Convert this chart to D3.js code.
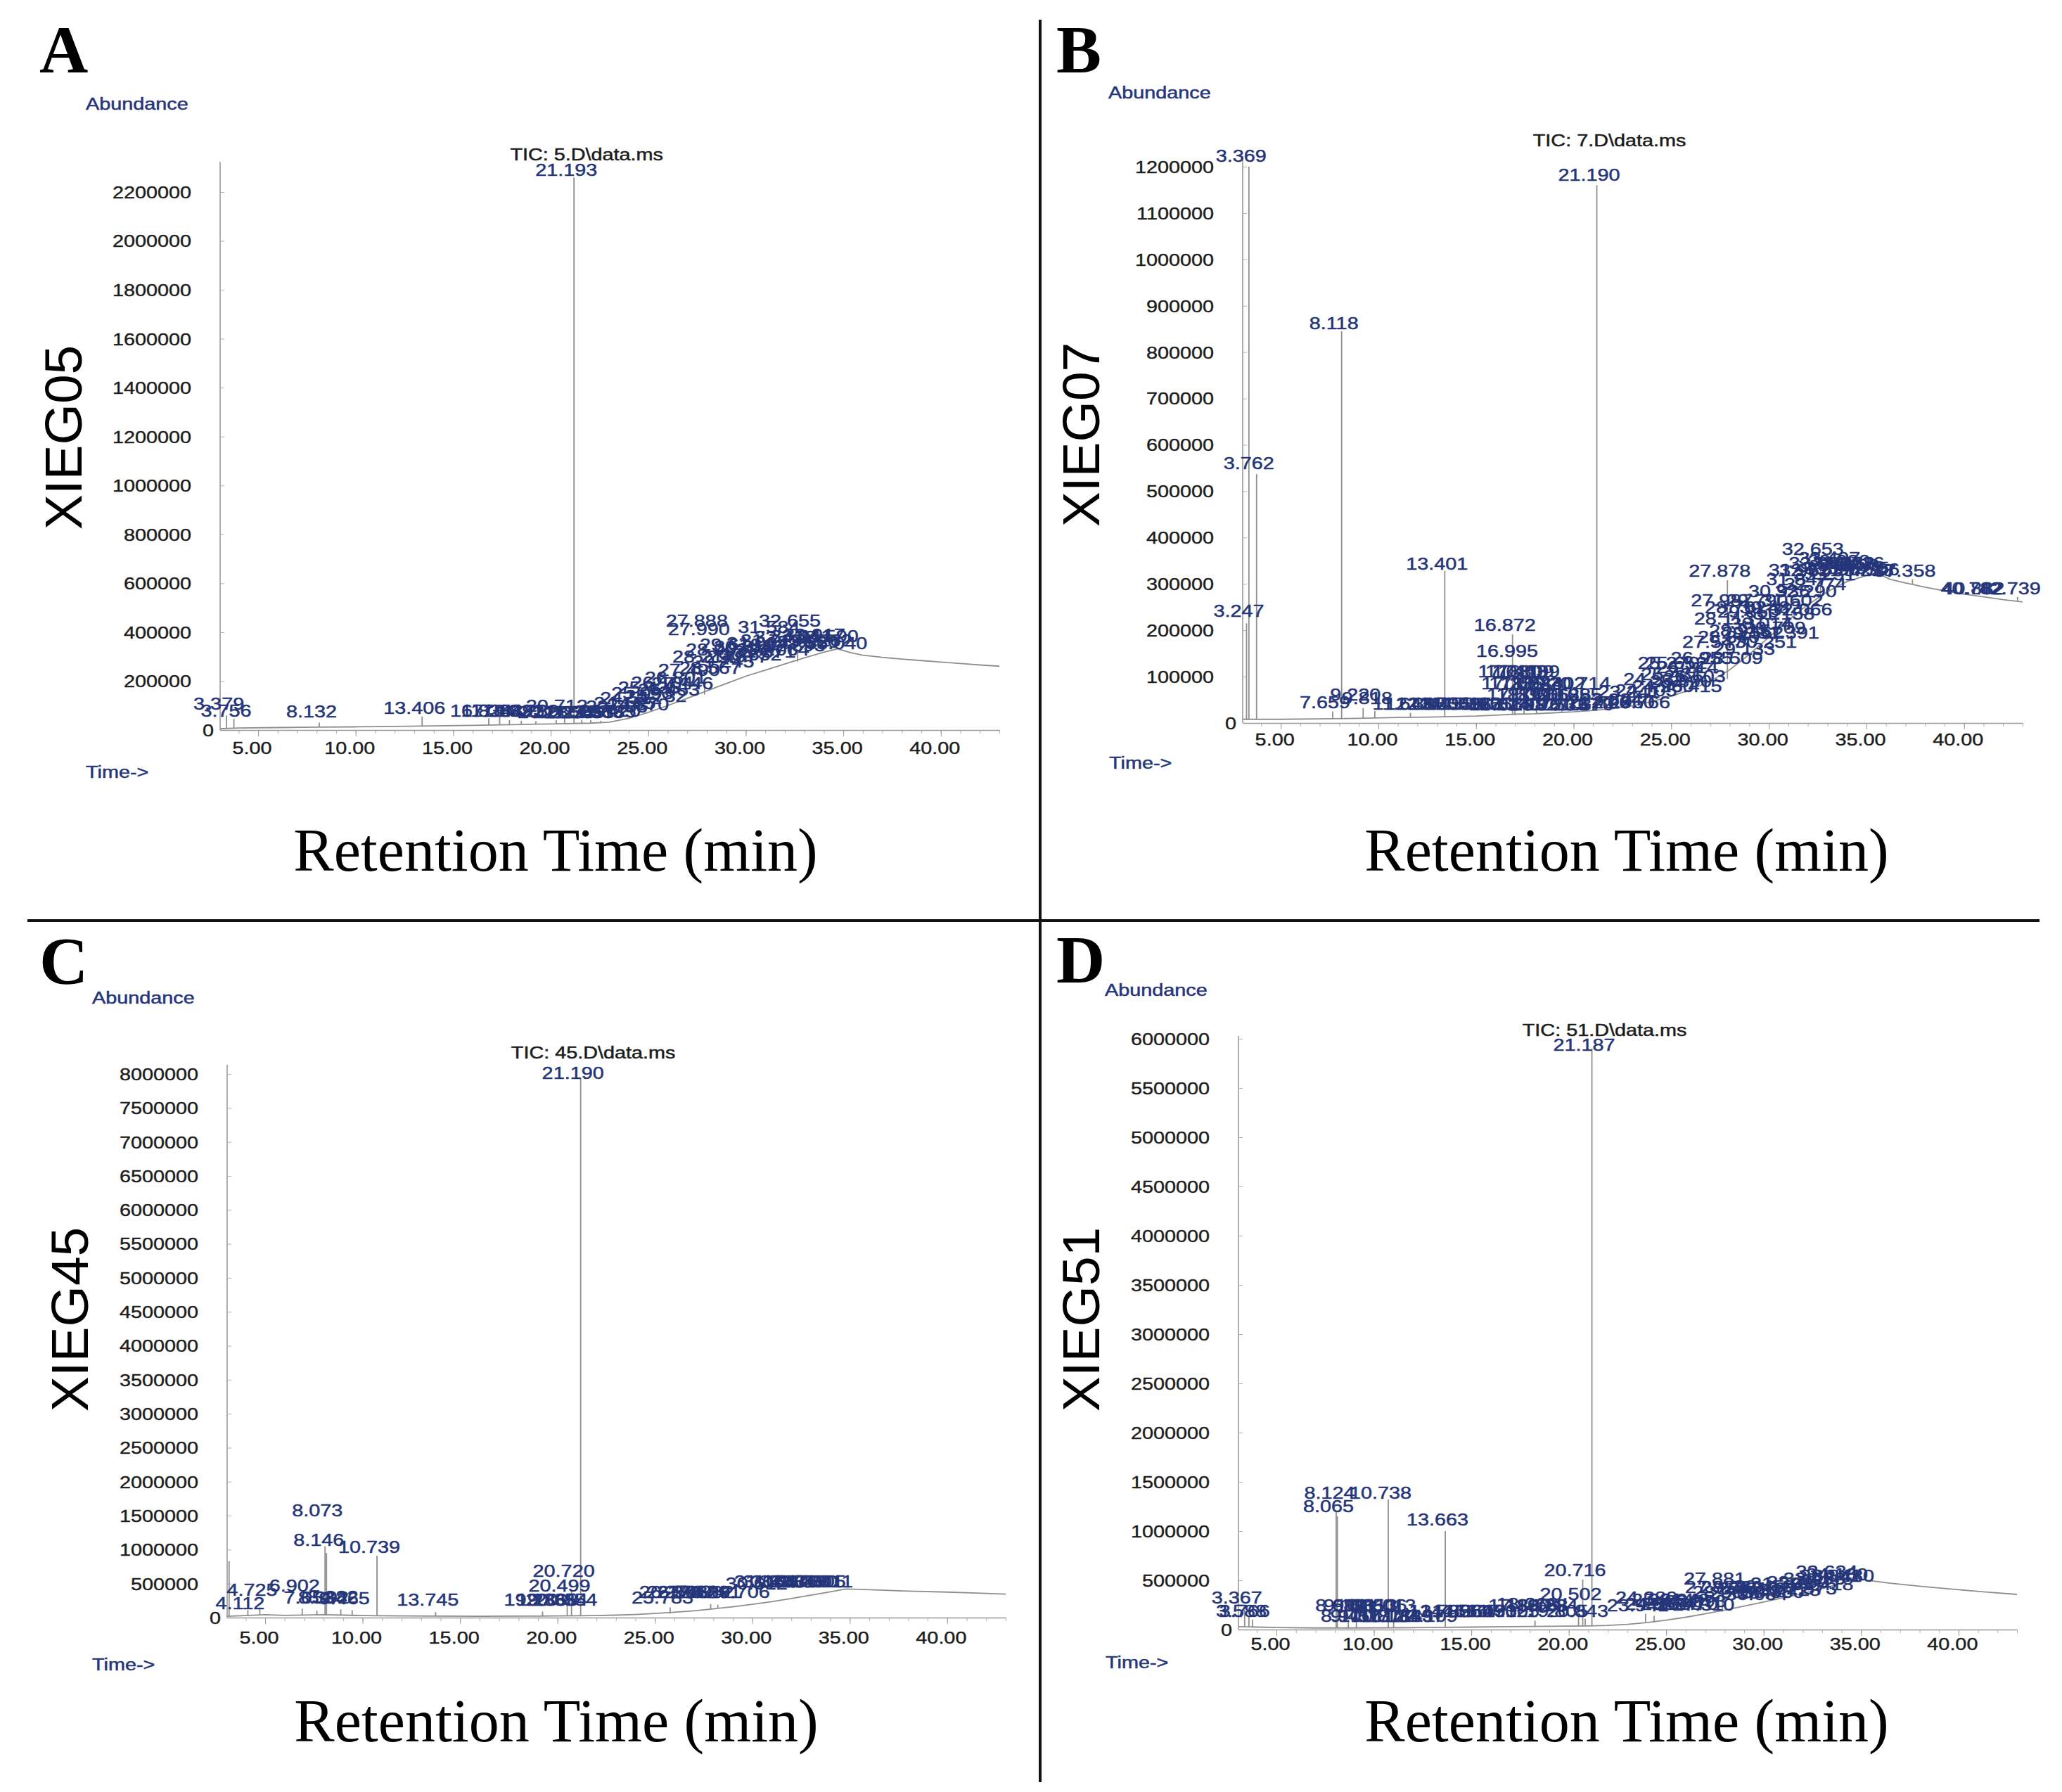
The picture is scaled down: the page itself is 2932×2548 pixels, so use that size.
<!DOCTYPE html>
<html>
<head>
<meta charset="utf-8">
<script src="https://cdn.jsdelivr.net/npm/d3@7"></script>
<style>
body { margin: 0; background: #fff; }
svg { display: block; }
</style>
</head>
<body>
<svg id="chart"></svg>
<script>
//------------------------------------------------------------------ data
var timeTicks = [5, 10, 15, 20, 25, 30, 35, 40]
var timeDomain = [3.05, 43.0]

var abundTicksA = [0, 200000, 400000, 600000, 800000, 1000000, 1200000, 1400000, 1600000, 1800000, 2000000, 2200000]
var abundTicksB = [0, 100000, 200000, 300000, 400000, 500000, 600000, 700000, 800000, 900000, 1000000, 1100000, 1200000]
var abundTicksC = [0, 500000, 1000000, 1500000, 2000000, 2500000, 3000000, 3500000, 4000000, 4500000, 5000000, 5500000, 6000000, 6500000, 7000000, 7500000, 8000000]
var abundTicksD = [0, 500000, 1000000, 1500000, 2000000, 2500000, 3000000, 3500000, 4000000, 4500000, 5000000, 5500000, 6000000]

// baseline of the TIC trace: [time, abundance]
var traceA = [[3.05, 5000], [4, 8000], [6, 10000], [8, 12000], [10, 13000], [12, 15000], [14, 17000], [16, 19000], [18, 22000], [20, 25000], [22, 28000], [23, 32000], [24, 48000], [25, 72000], [26, 100000], [27, 130000], [28, 160000], [29, 190000], [30, 220000], [31, 245000], [32, 270000], [33, 295000], [34, 318000], [34.7, 332000], [35.4, 316000], [36, 306000], [37, 297000], [38, 290000], [39, 284000], [40, 278000], [41, 272000], [42, 266000], [43, 261000]]
var traceB = [[3.06, 8000], [5, 8000], [7, 9000], [9, 10000], [11, 12000], [13, 13000], [15, 15000], [16, 17000], [17, 19000], [18, 20000], [19, 22000], [20, 24000], [21, 27000], [22, 31000], [23, 37000], [24, 46000], [25, 58000], [26, 72000], [27, 90000], [28, 115000], [29, 148000], [30, 185000], [31, 222000], [32, 255000], [33, 283000], [34, 305000], [35, 318000], [35.6, 322000], [36.2, 310000], [37, 302000], [38, 293000], [39, 285000], [40, 278000], [41, 272000], [42, 266000], [43, 261000]]
var traceC = [[3.02, 20000], [4, 30000], [5, 42000], [6, 32000], [7, 38000], [8, 42000], [9, 36000], [10, 30000], [11, 27000], [12, 24000], [14, 21000], [16, 20000], [18, 21000], [20, 24000], [22, 30000], [23, 36000], [24, 46000], [25, 60000], [26, 78000], [27, 100000], [28, 128000], [29, 160000], [30, 195000], [31, 235000], [32, 280000], [33, 330000], [34, 378000], [34.8, 420000], [35.5, 415000], [36.5, 405000], [38, 390000], [40, 375000], [41.5, 360000], [43, 345000]]
var traceD = [[3.05, 30000], [4, 25000], [5, 20000], [7, 16000], [9, 16000], [11, 18000], [13, 21000], [15, 25000], [17, 29000], [19, 33000], [21, 37000], [22, 42000], [23, 52000], [24, 70000], [25, 95000], [26, 125000], [27, 160000], [28, 198000], [29, 238000], [30, 280000], [31, 322000], [32, 365000], [33, 415000], [34, 470000], [34.7, 520000], [35.5, 495000], [36.5, 470000], [38, 440000], [40, 405000], [41.5, 380000], [43, 357000]]

// peaks: [retention time, apex abundance, foot abundance]
var peaksA = [[3.379, 60000, 5000], [3.756, 45000, 6000], [8.132, 30000, 12000], [13.406, 55000, 16000], [16.824, 48000, 20000], [17.383, 52000, 20000], [17.882, 40000, 21000], [18.493, 38000, 22000], [19.239, 36000, 23000], [20.286, 40000, 24000], [20.712, 48000, 25000], [21.193, 2260000, 25000], [21.589, 42000, 26000], [22.053, 40000, 27000], [22.563, 38000, 28000], [27.888, 200000, 145000], [32.655, 330000, 280000]]
var peaksB = [[3.247, 215000, 8000], [3.369, 1200000, 8000], [3.762, 537000, 8000], [7.659, 25000, 9000], [8.118, 845000, 10000], [9.220, 32000, 10000], [9.818, 26000, 11000], [11.643, 22000, 12000], [13.401, 328000, 13000], [16.872, 191000, 17000], [16.995, 125000, 17000], [17.463, 75000, 19000], [18.109, 68000, 20000], [19.402, 55000, 22000], [20.714, 58000, 26000], [21.190, 1160000, 27000], [27.878, 308000, 95000], [32.653, 345000, 275000], [37.358, 310000, 300000], [40.782, 288000, 276000], [42.739, 272000, 263000]]
var peaksC = [[3.150, 830000, 20000], [4.112, 110000, 30000], [4.725, 150000, 38000], [6.902, 130000, 35000], [7.653, 100000, 38000], [8.073, 1050000, 42000], [8.146, 950000, 42000], [8.882, 120000, 37000], [9.465, 110000, 34000], [10.739, 910000, 29000], [13.745, 80000, 22000], [19.236, 90000, 23000], [20.499, 280000, 25000], [20.720, 400000, 25000], [21.190, 7940000, 26000], [25.783, 150000, 60000], [27.862, 200000, 125000], [28.231, 190000, 135000]]
var peaksD = [[3.367, 200000, 30000], [3.588, 130000, 28000], [3.766, 100000, 27000], [8.065, 1210000, 16000], [8.124, 1150000, 16000], [8.688, 100000, 16000], [9.103, 80000, 16000], [10.738, 1320000, 17000], [11.013, 90000, 18000], [13.663, 1000000, 21000], [18.268, 90000, 31000], [20.502, 230000, 36000], [20.716, 507000, 37000], [20.843, 110000, 37000], [21.187, 5900000, 37000], [23.941, 160000, 65000], [24.380, 140000, 75000], [27.881, 330000, 180000]]

// peak labels: [text, abundance where the label sits]
var labelsA = [["21.193", 2289000], ["3.379", 109000], ["3.756", 80000], ["8.132", 75000], ["13.406", 89000],
    ["16.824", 80000], ["17.383", 80000], ["17.882", 80000], ["18.493", 78000], ["19.239", 80000], ["20.712", 100000], ["20.286", 72000], ["21.034", 72000], ["21.589", 72000], ["22.053", 72000], ["22.563", 72000], ["23.185", 76000],
    ["23.420", 80000], ["23.785", 95000], ["24.185", 110000], ["24.512", 130000], ["24.870", 105000], ["25.093", 150000], ["25.436", 175000], ["25.782", 140000], ["26.104", 195000], ["26.453", 165000], ["26.801", 215000], ["27.146", 190000], ["27.490", 245000],
    ["27.888", 446000], ["27.990", 412000], ["28.214", 300000], ["28.567", 255000], ["28.903", 330000], ["29.245", 280000], ["29.618", 350000], ["29.977", 300000], ["30.311", 340000], ["30.652", 310000], ["31.004", 355000], ["31.371", 320000], ["31.584", 420000], ["31.719", 365000],
    ["32.064", 330000], ["32.412", 380000], ["32.655", 446000], ["32.893", 345000], ["33.241", 385000], ["33.580", 360000], ["33.917", 390000], ["34.262", 365000], ["34.590", 385000], ["35.040", 355000]]
var labelsB = [["21.190", 1182000], ["3.369", 1223000], ["3.762", 561000], ["3.247", 242000], ["8.118", 863000], ["13.401", 343000], ["16.872", 211000], ["16.995", 155000],
    ["7.659", 45000], ["9.220", 62000], ["9.818", 53000], ["11.643", 41000], ["12.310", 41000], ["12.875", 41000], ["13.504", 41000], ["14.069", 41000], ["14.587", 41000], ["15.120", 41000], ["15.655", 41000], ["16.213", 41000],
    ["17.081", 111000], ["17.463", 111000], ["17.809", 111000], ["18.109", 111000], ["17.256", 86000], ["17.652", 86000], ["18.244", 86000], ["18.830", 86000], ["19.402", 86000], ["20.714", 86000],
    ["17.530", 62000], ["18.020", 62000], ["18.566", 62000], ["19.110", 62000], ["19.688", 62000], ["20.255", 62000], ["16.624", 40000], ["17.140", 40000], ["17.982", 40000], ["18.751", 40000], ["19.533", 40000], ["20.167", 40000], ["20.870", 40000],
    ["21.706", 45000], ["22.324", 50000], ["22.960", 45000], ["23.241", 68000], ["23.766", 45000],
    ["24.105", 70000], ["24.532", 95000], ["24.980", 80000], ["25.270", 130000], ["25.652", 130000], ["25.431", 105000], ["25.890", 90000], ["26.214", 120000], ["26.603", 100000], ["26.955", 140000], ["26.415", 80000],
    ["27.878", 329000], ["27.987", 265000], ["27.547", 175000], ["28.113", 225000], ["28.340", 185000], ["28.509", 140000], ["28.702", 250000], ["28.915", 200000], ["29.133", 160000], ["29.350", 240000], ["29.562", 195000], ["29.790", 265000],
    ["30.014", 215000], ["30.251", 175000], ["30.482", 250000], ["30.709", 205000], ["30.936", 285000], ["31.158", 235000], ["31.391", 195000], ["31.602", 265000], ["31.847", 310000], ["31.967", 330000], ["32.066", 245000], ["32.290", 285000], ["32.521", 330000],
    ["32.653", 376000], ["32.774", 300000], ["33.008", 345000], ["33.251", 320000], ["33.497", 355000], ["33.742", 335000], ["33.990", 350000], ["34.238", 345000], ["34.480", 340000], ["34.726", 345000], ["34.975", 335000], ["35.218", 330000], ["35.506", 332000],
    ["37.358", 328000], ["40.782", 290000], ["40.882", 290000], ["42.739", 290000]]
var labelsC = [["21.190", 8010000], ["8.073", 1580000], ["8.146", 1140000], ["10.739", 1035000], ["6.902", 466000], ["4.725", 404000], ["4.112", 207000],
    ["7.653", 290000], ["8.392", 290000], ["8.882", 300000], ["9.465", 280000], ["13.745", 259000], ["20.720", 683000], ["20.499", 466000], ["19.236", 259000], ["19.868", 259000], ["20.354", 259000], ["20.854", 259000],
    ["25.783", 290000], ["26.174", 373000], ["26.565", 373000], ["27.088", 373000], ["27.474", 373000], ["27.862", 373000], ["28.231", 373000], ["29.706", 373000], ["30.612", 500000],
    ["31.054", 528000], ["31.488", 528000], ["31.913", 528000], ["32.340", 528000], ["32.768", 528000], ["33.190", 528000], ["33.605", 528000], ["34.011", 528000]]
var labelsD = [["21.187", 5940000], ["8.124", 1386000], ["8.065", 1250000], ["10.738", 1386000], ["13.663", 1114000], ["3.367", 321000], ["3.588", 186000], ["3.766", 186000], ["20.716", 600000], ["20.502", 357000],
    ["8.688", 243000], ["9.103", 243000], ["9.588", 243000], ["10.013", 243000], ["10.506", 243000], ["11.013", 243000], ["8.971", 136000], ["9.457", 136000], ["10.181", 136000], ["10.771", 136000], ["11.184", 136000], ["11.889", 136000], ["12.437", 136000], ["13.109", 136000],
    ["13.782", 186000], ["14.356", 186000], ["14.960", 186000], ["15.549", 186000], ["16.131", 186000], ["16.702", 186000], ["17.305", 186000], ["17.860", 243000], ["18.268", 257000], ["18.768", 243000], ["19.284", 243000], ["19.805", 186000], ["20.843", 186000],
    ["23.941", 243000], ["24.380", 321000], ["24.855", 260000], ["25.214", 300000], ["25.630", 260000], ["26.048", 300000], ["26.470", 260000], ["26.893", 290000], ["27.310", 250000],
    ["27.881", 514000], ["27.952", 428000], ["28.335", 380000], ["28.760", 428000], ["29.184", 371000], ["29.610", 420000], ["30.034", 360000], ["30.459", 440000], ["30.880", 380000], ["31.305", 470000], ["31.728", 400000],
    ["32.150", 480000], ["32.573", 420000], ["32.996", 520000], ["33.418", 460000], ["33.634", 586000], ["33.841", 543000], ["34.160", 560000], ["34.480", 543000]]

// file header over the main peak: [text, time, abundance]
var ticA = ["TIC: 5.D\\data.ms", 21.193, 2355000]
var ticB = ["TIC: 7.D\\data.ms", 21.190, 1256000]
var ticC = ["TIC: 45.D\\data.ms", 21.190, 8310000]
var ticD = ["TIC: 51.D\\data.ms", 21.187, 6086000]

var sampleNames = ["XIEG05", "XIEG07", "XIEG45", "XIEG51"]
var panelLetters = ["A", "B", "C", "D"]

//------------------------------------------------------------------ layout (pixels)
var W = 2932, H = 2548
var navy = "#25357a", ink = "#1c1c1c", trace = "#8e8e8e"
var sans = "'Liberation Sans', Arial, sans-serif", serif = "'Liberation Serif', 'Times New Roman', serif"

var panels = [
    { trace: traceA, peaks: peaksA, labels: labelsA, tic: ticA, ticks: abundTicksA, left: 313, right: 1421, zeroY: 1038, maxY: 273, axisTop: 230, xLab: 26,
      letter: [56, 103], abund: [122, 148], time: [122, 1098], name: [89, 622], title: [790, 1238] },
    { trace: traceB, peaks: peaksB, labels: labelsB, tic: ticB, ticks: abundTicksB, left: 1767, right: 2876, zeroY: 1028, maxY: 237, axisTop: 222, xLab: 24,
      letter: [1502, 103], abund: [1576, 132], time: [1577, 1085], name: [1536, 618], title: [2313, 1238] },
    { trace: traceC, peaks: peaksC, labels: labelsC, tic: ticC, ticks: abundTicksC, left: 323, right: 1430, zeroY: 2300, maxY: 1527, axisTop: 1514, xLab: 29,
      letter: [56, 1399], abund: [131, 1419], time: [131, 2367], name: [98, 1876], title: [791, 2476] },
    { trace: traceD, peaks: peaksD, labels: labelsD, tic: ticD, ticks: abundTicksD, left: 1761, right: 2868, zeroY: 2317, maxY: 1477, axisTop: 1473, xLab: 21,
      letter: [1502, 1397], abund: [1571, 1408], time: [1572, 2364], name: [1536, 1876], title: [2313, 2476] }
]

var svg = d3.select("#chart").attr("width", W).attr("height", H).style("background", "#fff")

// ChemStation text is drawn wide and a little heavy: stretch it horizontally
function smallText(g, px, py, str, anchor, color) {
    return g.append("text")
        .attr("transform", "translate(" + px + "," + py + ") scale(1.2,1)")
        .attr("text-anchor", anchor).attr("dy", "0.35em").attr("fill", color)
        .attr("stroke", color).attr("stroke-width", 0.5)
        .style("font-family", sans).style("font-size", "24px")
        .text(str)
}

//------------------------------------------------------------------ panel dividers
svg.append("line").attr("x1", 1479).attr("y1", 28).attr("x2", 1479).attr("y2", 2534).attr("stroke", "#111").attr("stroke-width", 4)
svg.append("line").attr("x1", 39).attr("y1", 1309).attr("x2", 2900).attr("y2", 1309).attr("stroke", "#111").attr("stroke-width", 4)

panels.forEach(function (p, i) {
    var g = svg.append("g").attr("class", "panel" + i)
    var x = d3.scaleLinear().domain(timeDomain).range([p.left, p.right])
    var y = d3.scaleLinear().domain([0, p.ticks[p.ticks.length - 1]]).range([p.zeroY, p.maxY])

    //------------- y axis
    g.append("line").attr("x1", p.left).attr("x2", p.left).attr("y1", p.zeroY).attr("y2", p.axisTop)
        .attr("stroke", "#9a9a9a").attr("stroke-width", 1.6)
    var yAx = g.append("g").attr("transform", "translate(" + p.left + ",0)")
        .call(d3.axisLeft(y).tickValues(p.ticks).tickSize(-6).tickFormat(d3.format("d")))
    yAx.select(".domain").remove()
    yAx.selectAll(".tick line").attr("stroke", "#b0b0b0")
    yAx.selectAll(".tick text")
        .attr("x", d => (d === 0 ? -9 : -41) / 1.2).attr("dy", "0.35em")
        .attr("transform", "scale(1.2,1)").attr("fill", ink).attr("stroke", ink).attr("stroke-width", 0.4)
        .style("font-family", sans).style("font-size", "24px")

    //------------- x axis (minor ticks every minute, labels every 5)
    var xMinor = g.append("g").attr("transform", "translate(0," + p.zeroY + ")")
        .call(d3.axisBottom(x).tickValues(d3.range(4, 44)).tickSize(5).tickFormat(""))
    xMinor.select(".domain").remove()
    xMinor.selectAll(".tick line").attr("stroke", "#b0b0b0")
    var xAx = g.append("g").attr("transform", "translate(0," + p.zeroY + ")")
        .call(d3.axisBottom(x).tickValues(timeTicks).tickSize(9).tickSizeOuter(0).tickFormat(d3.format(".2f")))
    xAx.select(".domain").attr("stroke", "#9a9a9a").attr("stroke-width", 1.6)
    xAx.selectAll(".tick line").attr("stroke", "#9a9a9a")
    xAx.selectAll(".tick text")
        .attr("x", -9 / 1.2).attr("y", p.xLab).attr("dy", "0.35em")
        .attr("transform", "scale(1.2,1)").attr("fill", ink).attr("stroke", ink).attr("stroke-width", 0.4)
        .style("font-family", sans).style("font-size", "24px")

    //------------- trace and peaks
    var lineGen = d3.line().x(d => x(d[0])).y(d => y(d[1]))
    g.append("path").attr("d", lineGen(p.trace)).attr("fill", "none").attr("stroke", trace).attr("stroke-width", 1.8)
    g.selectAll(".peak").data(p.peaks).join("line").attr("class", "peak")
        .attr("x1", d => x(d[0])).attr("x2", d => x(d[0]))
        .attr("y1", d => y(d[2])).attr("y2", d => y(d[1]))
        .attr("stroke", trace).attr("stroke-width", 1.8)

    //------------- peak labels
    var lg = g.append("g").attr("class", "peak_labels")
    p.labels.forEach(function (d) {
        smallText(lg, x(+d[0]) - 11, y(d[1]), d[0], "middle", navy)
    })
    smallText(g, x(p.tic[1]) + 18, y(p.tic[2]), p.tic[0], "middle", ink)

    //------------- axis captions
    smallText(g, p.abund[0], p.abund[1], "Abundance", "start", navy)
    smallText(g, p.time[0], p.time[1], "Time->", "start", navy)

    g.append("text").attr("x", p.letter[0]).attr("y", p.letter[1])
        .style("font-family", serif).style("font-weight", "bold").style("font-size", "96px").attr("fill", "#000")
        .text(panelLetters[i])
    g.append("text").attr("x", p.title[0]).attr("y", p.title[1]).attr("text-anchor", "middle")
        .style("font-family", serif).style("font-size", "86px").attr("fill", "#000")
        .text("Retention Time (min)")
    g.append("text").attr("transform", "translate(" + (p.name[0] + 27) + "," + p.name[1] + ") rotate(-90)")
        .attr("text-anchor", "middle")
        .style("font-family", sans).style("font-size", "75px").attr("fill", "#000")
        .text(sampleNames[i])
})
</script>
</body>
</html>
